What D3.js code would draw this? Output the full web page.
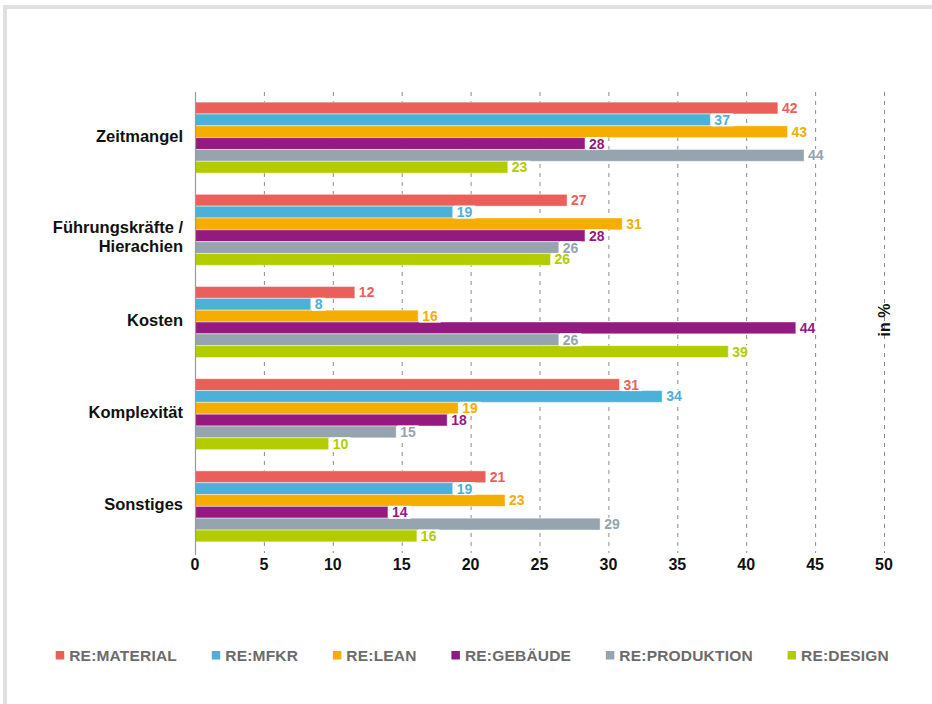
<!DOCTYPE html>
<html>
<head>
<meta charset="utf-8">
<script src="https://cdn.jsdelivr.net/npm/d3@7/dist/d3.min.js"></script>
<style>
html,body{margin:0;padding:0;background:#fff;}
svg{display:block;font-family:"Liberation Sans",Arial,Helvetica,sans-serif;}
</style>
</head>
<body>
<svg id="chart" width="932" height="704"></svg>
<script>
// ---- data ----
const categories = ["Zeitmangel", "Führungskräfte /\nHierachien", "Kosten", "Komplexität", "Sonstiges"];
const seriesNames = ["RE:MATERIAL", "RE:MFKR", "RE:LEAN", "RE:GEBÄUDE", "RE:PRODUKTION", "RE:DESIGN"];
const material   = [42.3, 27.0, 11.6, 30.8, 21.1];
const mfkr       = [37.4, 18.7,  8.4, 33.9, 18.7];
const lean       = [43.0, 31.0, 16.2, 19.1, 22.5];
const gebaeude   = [28.3, 28.3, 43.6, 18.3, 14.0];
const produktion = [44.2, 26.4, 26.4, 14.6, 29.4];
const design     = [22.7, 25.8, 38.7,  9.7, 16.1];
const xTicks = [0, 5, 10, 15, 20, 25, 30, 35, 40, 45, 50];
const colors = ["#eb5f5a", "#4bb1d9", "#f5ae00", "#951a7f", "#95a4ae", "#b2cc00"];
const axisTitle = "in %";

const seriesValues = [material, mfkr, lean, gebaeude, produktion, design];

const svg = d3.select("#chart");

// frame
svg.append("rect").attr("x", 5).attr("y", 7).attr("width", 1000).attr("height", 1000)
  .attr("fill", "#fff").attr("stroke", "#e0e0e0").attr("stroke-width", 4);

const x = d3.scaleLinear().domain([0, 50]).range([195, 884]);
const y0 = d3.scaleBand().domain(categories).range([92, 552]).paddingInner(0.23).paddingOuter(0.11);
const y1 = d3.scaleBand().domain(seriesNames).range([0, y0.bandwidth()]).padding(0);

// grid
svg.append("g").selectAll("line").data(xTicks.filter(t => t > 0)).join("line")
  .attr("x1", d => x(d) + 0.5).attr("x2", d => x(d) + 0.5)
  .attr("y1", 92).attr("y2", 553)
  .attr("stroke", "#8a8a8a").attr("stroke-width", 1).attr("stroke-dasharray", "4,5");

// x tick labels
svg.append("g").selectAll("text").data(xTicks).join("text")
  .attr("x", d => x(d)).attr("y", 569.5)
  .attr("text-anchor", "middle").attr("font-size", 16).attr("font-weight", "bold")
  .attr("fill", "#111").text(d => d);

// bars
const groups = svg.append("g").selectAll("g").data(categories).join("g")
  .attr("transform", d => `translate(0,${y0(d)})`);

groups.each(function (cat, ci) {
  const g = d3.select(this);
  seriesNames.forEach((s, si) => {
    const v = seriesValues[si][ci];
    g.append("rect")
      .attr("x", x(0)).attr("y", y1(s))
      .attr("width", x(v) - x(0)).attr("height", y1.bandwidth())
      .attr("fill", colors[si])
      .attr("stroke", "#fff").attr("stroke-opacity", 0.45).attr("stroke-width", 1);
  });
});

// value labels (drawn after all bars so white boxes sit on top)
groups.each(function (cat, ci) {
  const g = d3.select(this);
  seriesNames.forEach((s, si) => {
    const v = seriesValues[si][ci];
    const cy = y1(s) + y1.bandwidth() / 2;
    const t = g.append("text")
      .attr("x", x(v) + 4).attr("y", cy + 5)
      .attr("font-size", 14).attr("font-weight", "bold")
      .attr("fill", colors[si]).text(Math.round(v));
    const w = t.node().getComputedTextLength();
    g.insert("rect", () => t.node())
      .attr("x", x(v) + 1).attr("y", cy - 6.5)
      .attr("width", w + 6).attr("height", 13)
      .attr("fill", "#fff");
  });
});

// axis line at 0
svg.append("line").attr("x1", x(0) + 0.5).attr("x2", x(0) + 0.5).attr("y1", 92).attr("y2", 555)
  .attr("stroke", "#9a9a9a").attr("stroke-width", 1.2);

// category labels
svg.append("g").selectAll("text").data(categories).join("text")
  .attr("text-anchor", "end").attr("font-size", 16.5).attr("font-weight", "bold").attr("fill", "#111")
  .each(function (d) {
    const lines = d.split("\n");
    const cy = y0(d) + y0.bandwidth() / 2;
    const t = d3.select(this);
    if (lines.length === 1) {
      t.append("tspan").attr("x", 183).attr("y", cy + 4).text(lines[0]);
    } else {
      lines.forEach((l, i) => t.append("tspan").attr("x", 183).attr("y", cy + 3 + i * 19.5).text(l));
    }
  });

// axis title
svg.append("text").attr("transform", "translate(890,320) rotate(-90)")
  .attr("text-anchor", "middle").attr("font-size", 16).attr("font-weight", "bold")
  .attr("fill", "#111").text(axisTitle);

// legend
const legend = svg.append("g");
const items = seriesNames.map((n, i) => {
  const g = legend.append("g");
  g.append("rect").attr("x", 0).attr("y", 651).attr("width", 8.5).attr("height", 8.5).attr("fill", colors[i]);
  const t = g.append("text").attr("x", 13.5).attr("y", 661).attr("font-size", 15.5)
    .attr("font-weight", "bold").attr("fill", "#6b6b6b").attr("letter-spacing", 0.2).text(n);
  return { g, w: 13.5 + t.node().getComputedTextLength() };
});
const startX = 55.7, endX = 889;
const totalW = d3.sum(items, d => d.w);
const gap = (endX - startX - totalW) / (items.length - 1);
let cx = startX;
items.forEach(it => { it.g.attr("transform", `translate(${cx},0)`); cx += it.w + gap; });
</script>
</body>
</html>
